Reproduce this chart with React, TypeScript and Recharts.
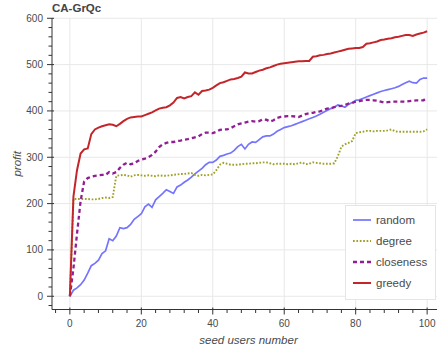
import React from 'react';
import { LineChart, Line, XAxis, YAxis, CartesianGrid, Legend } from 'recharts';

// profit per number of seed users (0..100)
const random = [
  0, 13, 18, 25, 35, 50, 66, 71, 78, 92, 98, 124, 120, 130, 148, 146, 148, 155, 166, 172,
  178, 193, 199, 192, 208, 215, 222, 230, 226, 222, 236, 240, 246, 251, 257, 264, 270, 276, 284, 289,
  289, 294, 302, 304, 307, 309, 315, 323, 328, 318, 328, 333, 332, 338, 344, 346, 346, 350, 356, 360,
  364, 366, 368, 371, 374, 377, 380, 383, 386, 389, 393, 397, 401, 405, 408, 413, 411, 408, 414, 418,
  423, 424, 427, 430, 433, 436, 439, 442, 444, 446, 448, 450, 453, 457, 461, 464, 461, 460, 468, 471,
  471,
];

const degree = [
  0, 210, 210, 210, 210, 210, 209, 209, 210, 212, 213, 212, 214, 260, 261, 262, 261, 258, 261, 262,
  261, 260, 261, 260, 259, 261, 260, 260, 261, 262, 263, 264, 264, 265, 266, 262, 260, 262, 261, 262,
  263, 272, 284, 288, 286, 284, 284, 284, 285, 286, 286, 287, 287, 288, 289, 289, 287, 285, 286, 286,
  286, 285, 286, 285, 287, 289, 285, 286, 289, 288, 287, 286, 286, 286, 287, 302, 323, 328, 331, 335,
  352, 354, 355, 357, 357, 356, 357, 357, 357, 358, 360, 356, 355, 355, 355, 355, 355, 355, 355, 356,
  360,
];

const closeness = [
  0, 60, 135, 205, 248, 255, 258, 260, 261, 262, 262, 268, 265, 268, 277, 284, 288, 285, 287, 292,
  295, 297, 300, 305, 312, 322, 328, 331, 333, 333, 335, 336, 338, 339, 341, 343, 345, 350, 353, 353,
  352, 355, 359, 360, 360, 363, 367, 371, 373, 375, 377, 378, 377, 378, 382, 381, 377, 380, 385, 387,
  388, 389, 389, 388, 387, 390, 393, 395, 396, 398, 399, 402, 405, 406, 408, 410, 411, 413, 416, 417,
  420, 421, 423, 424, 424, 423, 422, 420, 418, 419, 420, 420, 420, 420, 420, 421, 422, 423, 423, 423,
  429,
];

const greedy = [
  0, 215, 272, 308, 317, 319, 350, 360, 364, 367, 369, 371, 370, 367, 372, 378, 383, 386, 387, 388,
  388, 391, 394, 397, 401, 405, 407, 408, 412, 418, 428, 430, 427, 430, 432, 440, 435, 443, 444, 446,
  450, 455, 460, 462, 465, 468, 469, 471, 474, 483, 481, 481, 484, 487, 489, 492, 494, 497, 500, 502,
  503, 504, 505, 506, 507, 507, 508, 508, 517, 518, 520, 521, 523, 524, 526, 528, 530, 532, 534, 535,
  536, 536, 538, 545, 546, 548, 550, 553, 554, 556, 557, 559, 560, 562, 564, 564, 562, 565, 567, 569,
  572,
];

const xTicks = [-4, 0, 4, 8, 12, 16, 20, 24, 28, 32, 36, 40, 44, 48, 52, 56, 60, 64, 68, 72, 76, 80, 84, 88, 92, 96, 100, 104];
const yTicks = [-20, 0, 20, 40, 60, 80, 100, 120, 140, 160, 180, 200, 220, 240, 260, 280, 300, 320, 340, 360, 380, 400, 420, 440, 460, 480, 500, 520, 540, 560, 580, 600];
const xGrid = [0, 20, 40, 60, 80, 100];
const yGrid = [0, 100, 200, 300, 400, 500, 600];

const data = random.map((v, i) => ({
  seed: i,
  random: v,
  degree: degree[i],
  closeness: closeness[i],
  greedy: greedy[i],
}));

const series = [
  { key: 'random', color: '#7474ff', width: 1.7, dash: undefined as string | undefined },
  { key: 'degree', color: '#a0a028', width: 1.9, dash: '1.7 1.7' },
  { key: 'closeness', color: '#921e94', width: 2.3, dash: '4 3' },
  { key: 'greedy', color: '#c2262b', width: 2, dash: undefined },
];

const FONT = '"Liberation Sans", Arial, Helvetica, sans-serif';
const AXIS = '#333';
const LABEL = '#4a4a4a';

const XTick = (props: any) => {
  const { x, y, payload } = props;
  const major = payload.value % 20 === 0;
  return (
    <g>
      <line x1={x} x2={x} y1={y - (major ? 2 : 0)} y2={y + (major ? 5 : 3.5)} stroke={AXIS} strokeWidth={1} />
      {major && (
        <text x={x} y={y + 17.5} textAnchor="middle" fontSize={10} fontFamily={FONT} fill={LABEL}>
          {payload.value}
        </text>
      )}
    </g>
  );
};

const YTick = (props: any) => {
  const { x, y, payload } = props;
  const major = payload.value % 100 === 0;
  return (
    <g>
      <line x1={x - (major ? 5 : 3.5)} x2={x + (major ? 2 : 0)} y1={y} y2={y} stroke={AXIS} strokeWidth={1} />
      {major && (
        <text x={x - 9} y={y} dy="0.35em" textAnchor="end" fontSize={10} fontFamily={FONT} fill={LABEL}>
          {payload.value}
        </text>
      )}
    </g>
  );
};

const XLabel = (props: any) => {
  const { viewBox } = props;
  return (
    <text
      x={viewBox.x + viewBox.width / 2}
      y={344}
      textAnchor="middle"
      fontSize={11.5}
      fontStyle="italic"
      fontFamily={FONT}
      fill={LABEL}
    >
      seed users number
    </text>
  );
};

const YLabel = (props: any) => {
  const { viewBox } = props;
  const cy = viewBox.y + viewBox.height / 2;
  return (
    <text
      x={17}
      y={cy}
      dy="0.35em"
      transform={`rotate(-90, 17, ${cy})`}
      textAnchor="middle"
      fontSize={11.5}
      fontStyle="italic"
      fontFamily={FONT}
      fill={LABEL}
    >
      profit
    </text>
  );
};

const LegendBox = () => (
  <svg width={91} height={95} style={{ display: 'block' }}>
    <rect x={0.5} y={0.5} width={90} height={94} fill="#fff" fillOpacity={0.95} stroke="#e5e5e5" />
    {series.map((s, i) => {
      const cy = 15 + i * 21;
      return (
        <g key={s.key}>
          <line x1={8} x2={26} y1={cy} y2={cy} stroke={s.color} strokeWidth={s.width} strokeDasharray={s.dash} />
          <text x={31} y={cy} dy="0.35em" fontSize={11.5} fontFamily={FONT} fill={LABEL}>
            {s.key}
          </text>
        </g>
      );
    })}
  </svg>
);

export default function App() {
  return (
    <div style={{ position: 'absolute', left: 0, top: 0, width: 437, height: 352, overflow: 'hidden', background: '#fff' }}>
      <div
        style={{
          position: 'absolute',
          left: 52,
          top: 2.5,
          fontFamily: FONT,
          fontWeight: 'bold',
          fontSize: 11.5,
          lineHeight: 1,
          color: '#444',
          zIndex: 2,
        }}
      >
        CA-GrQc
      </div>
      <LineChart width={446} height={352} data={data} margin={{ top: 18, right: 1, left: 0, bottom: 0 }}>
        <CartesianGrid stroke="#e8e8e8" horizontalValues={yGrid} verticalValues={xGrid} />
        <XAxis
          dataKey="seed"
          type="number"
          domain={[-5, 105]}
          ticks={xTicks}
          interval={0}
          tickSize={0}
          tickMargin={0}
          tickLine={false}
          tick={<XTick />}
          axisLine={{ stroke: AXIS }}
          height={42.5}
          allowDataOverflow
          label={{ content: <XLabel /> }}
        />
        <YAxis
          type="number"
          domain={[-28.6, 600.6]}
          ticks={yTicks}
          interval={0}
          tickSize={0}
          tickMargin={0}
          tickLine={false}
          tick={<YTick />}
          axisLine={{ stroke: AXIS }}
          width={52}
          allowDataOverflow
          label={{ content: <YLabel /> }}
        />
        {series.map((s) => (
          <Line
            key={s.key}
            type="linear"
            dataKey={s.key}
            stroke={s.color}
            strokeWidth={s.width}
            strokeDasharray={s.dash}
            dot={false}
            activeDot={false}
            isAnimationActive={false}
          />
        ))}
        <Legend
          layout="vertical"
          align="center"
          verticalAlign="middle"
          content={<LegendBox />}
          wrapperStyle={{ position: 'absolute', left: 345, top: 205, width: 91, height: 95 }}
        />
      </LineChart>
    </div>
  );
}
